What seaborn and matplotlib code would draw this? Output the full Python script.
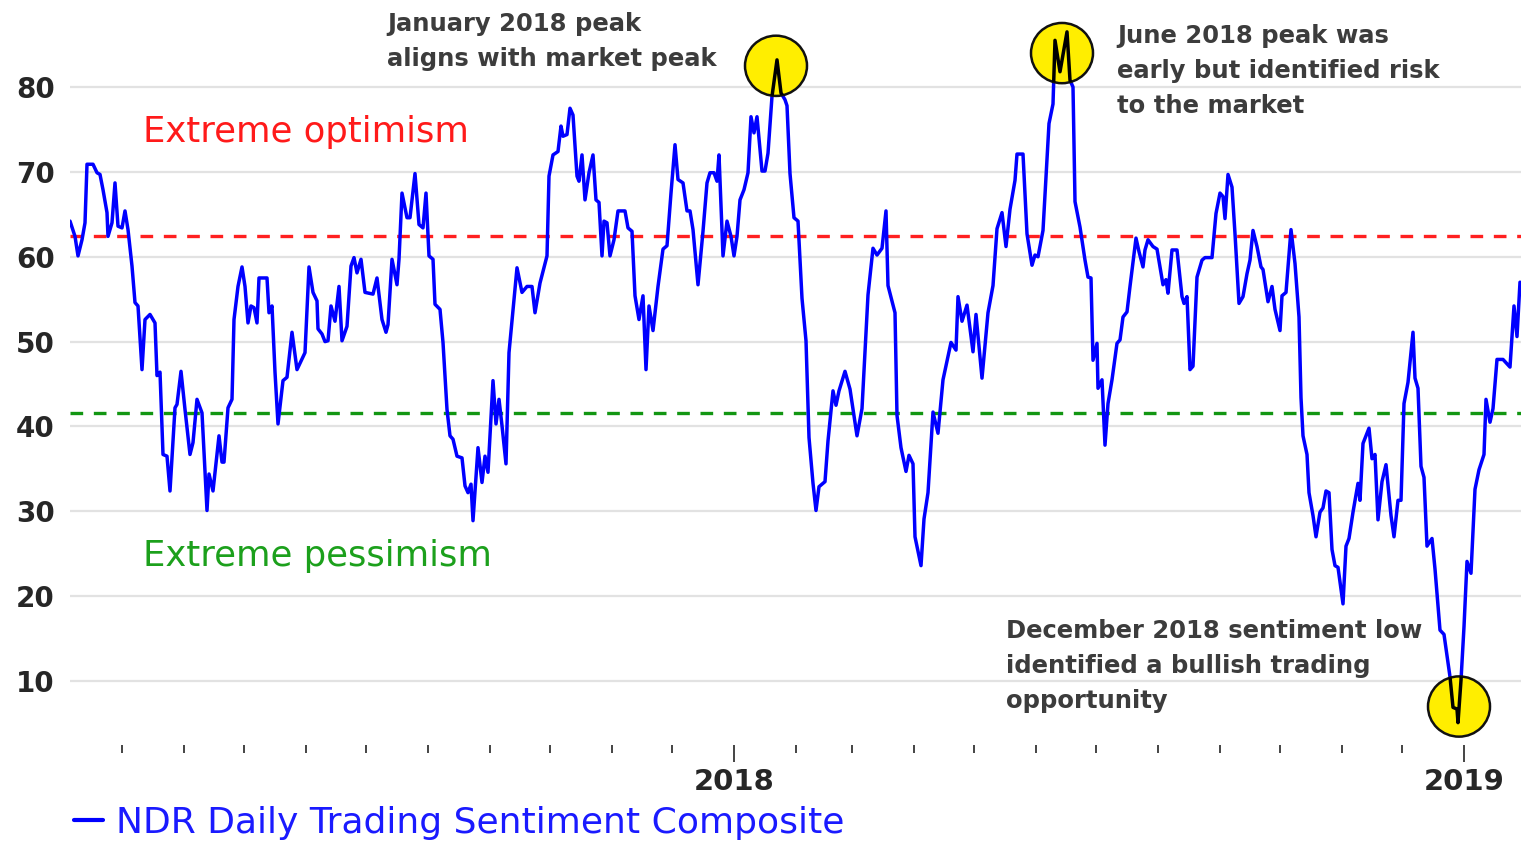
import numpy as np
import pandas as pd
import matplotlib
matplotlib.use("Agg")
import matplotlib.pyplot as plt
import matplotlib.dates as mdates
from matplotlib.patches import Ellipse
import seaborn as sns

# NDR Daily Trading Sentiment Composite
# day offsets are days from 2018-01-01
day_offsets = [
    -332, -329.5, -328, -326, -324.5, -323.5, -320.5, -318.5, -317, -315.5,
    -313.5, -313, -311, -309.5, -308, -306, -304.5, -303, -301, -299.5,
    -298, -296, -294.5, -292, -289.5, -288.5, -287, -285.5, -283.5, -282,
    -279.5, -278.5, -276.5, -274.5, -272, -270.5, -268.5, -266, -263.5, -262.5,
    -260.5, -257.5, -256, -255, -253, -251, -250, -248, -246, -244.5,
    -243, -241.5, -240, -238.5, -237.5, -233.5, -232.5, -231, -229.5, -228,
    -225.5, -223.5, -221, -218.5, -214.5, -212.5, -210.5, -208.5, -208, -206,
    -204.5, -203, -201.5, -199.5, -197.5, -196, -193.5, -191.5, -190, -188.5,
    -186.5, -184.5, -180.5, -178.5, -176, -174, -173, -171, -168.5, -167.5,
    -166, -163.5, -162, -159.5, -157.5, -155.5, -154, -152.5, -150.5, -149.5,
    -147, -145.5, -143.5, -142, -140.5, -138.5, -136, -134.5, -133, -131.5,
    -130.5, -128, -126, -124.5, -123, -120.5, -119, -117.5, -116, -114,
    -112.5, -108.5, -106, -103.5, -101, -99.5, -97, -93.5, -92.5, -90.5,
    -88, -86.5, -85.5, -83.5, -82, -80.5, -78.5, -77.5, -76, -74.5,
    -72.5, -70.5, -69, -67.5, -66, -65, -63.5, -62, -60, -58,
    -54.5, -53, -51, -49.5, -47.5, -45.5, -44, -42.5, -40.5, -38,
    -35.5, -33.5, -31.5, -29.5, -28, -25.5, -23.5, -22, -20.5, -18,
    -15.5, -13.5, -12, -10, -8.5, -7.5, -5.5, -3.5, -1.5, 0,
    1.5, 3, 5, 7, 8.5, 10, 11.5, 14, 15.5, 17,
    19, 21.5, 23.5, 25.5, 26.5, 28, 30, 32, 34, 36,
    37.5, 39.5, 41, 42.5, 45.5, 47, 49.5, 51, 52.5, 55.5,
    58, 61.5, 64, 67, 69.5, 71.5, 74, 76, 77, 80.5,
    81.5, 83.5, 86, 87.5, 89.5, 90.5, 93.5, 95, 97, 99.5,
    102, 104.5, 108.5, 111, 112, 114, 116.5, 119.5, 121, 124,
    127, 129.5, 131.5, 134, 136, 138, 140.5, 141.5, 144.5, 146.5,
    149, 150.5, 152, 154.5, 156.5, 157.5, 159.5, 160.5, 163, 166.5,
    168, 169.5, 170.5, 173, 175.5, 177, 178.5, 179.5, 181.5, 182,
    184, 185.5, 187, 189, 191.5, 193, 194.5, 196.5, 198, 201,
    202.5, 204.5, 205.5, 207, 209.5, 211.5, 214.5, 216, 217, 219,
    221.5, 224, 225, 226.5, 228, 229.5, 231.5, 234, 235.5, 239,
    241, 243, 244.5, 245.5, 247, 249, 250.5, 252.5, 254.5, 256.5,
    258, 259.5, 261.5, 263.5, 264.5, 267, 269, 270.5, 273, 274,
    276, 278.5, 280.5, 282.5, 283.5, 284.5, 286.5, 287.5, 289.5, 291,
    293, 294.5, 296, 297.5, 299, 300.5, 302, 304.5, 306, 307.5,
    309.5, 312, 313, 314.5, 317.5, 319, 320.5, 322, 324, 326,
    328.5, 330, 332, 333.5, 335, 337, 339.5, 340.5, 342, 343.5,
    345, 346.5, 349, 350.5, 353, 355, 358, 359.5, 361.5, 362,
    363.5, 365, 366.5, 368.5, 370.5, 372.5, 375, 376, 378, 379.5,
    381.5, 384.5, 388, 390, 391.5, 393,
]
sentiment = [
    64.2, 62.4, 60.1, 62.0, 64.0, 70.9, 70.9, 69.9, 69.7, 67.9,
    65.2, 62.4, 64.0, 68.7, 63.6, 63.4, 65.4, 63.2, 58.9, 54.6,
    54.2, 46.7, 52.6, 53.2, 52.2, 46.0, 46.4, 36.7, 36.5, 32.4,
    42.2, 42.6, 46.5, 42.0, 36.7, 38.1, 43.2, 41.6, 30.1, 34.4,
    32.4, 38.9, 35.8, 35.8, 42.2, 43.2, 52.6, 56.5, 58.8, 56.5,
    52.2, 54.2, 54.0, 52.2, 57.5, 57.5, 53.4, 54.2, 46.4, 40.3,
    45.4, 45.8, 51.1, 46.7, 48.7, 58.8, 55.8, 54.8, 51.5, 50.9,
    50.0, 50.1, 54.2, 52.4, 56.5, 50.1, 51.8, 58.9, 59.9, 58.1,
    59.7, 55.8, 55.6, 57.5, 52.6, 51.1, 52.0, 59.7, 56.7, 59.7,
    67.5, 64.6, 64.6, 69.8, 63.8, 63.4, 67.5, 60.1, 59.7, 54.4,
    53.8, 49.9, 42.0, 38.9, 38.5, 36.5, 36.3, 33.0, 32.2, 33.2,
    28.9, 37.5, 33.4, 36.5, 34.6, 45.4, 40.3, 43.2, 40.1, 35.6,
    48.7, 58.7, 55.8, 56.5, 56.5, 53.4, 56.9, 60.1, 69.5, 72.0,
    72.4, 75.4, 74.2, 74.4, 77.5, 76.7, 69.5, 68.9, 72.0, 66.7,
    69.9, 72.0, 66.7, 66.4, 60.1, 64.2, 64.0, 60.1, 62.0, 65.4,
    65.4, 63.4, 63.0, 55.4, 52.6, 55.4, 46.7, 54.2, 51.3, 56.5,
    60.9, 61.3, 67.5, 73.2, 69.1, 68.7, 65.4, 65.4, 63.2, 56.7,
    63.0, 68.7, 69.9, 69.9, 68.9, 72.0, 60.1, 64.2, 62.4, 60.1,
    62.4, 66.7, 67.9, 69.9, 76.5, 74.6, 76.5, 70.1, 70.1, 72.2,
    78.9, 83.2, 79.3, 78.5, 77.8, 69.8, 64.6, 64.2, 55.1, 50.1,
    38.7, 33.3, 30.1, 32.9, 33.5, 38.3, 44.2, 42.5, 44.2, 46.5,
    44.4, 38.9, 42.1, 55.5, 61.0, 60.2, 61.0, 65.4, 56.6, 53.4,
    41.3, 37.5, 34.7, 36.6, 35.6, 27.0, 23.6, 29.1, 32.2, 41.7,
    39.2, 45.5, 49.9, 49.0, 55.3, 52.4, 54.3, 48.8, 53.2, 45.7,
    53.4, 56.6, 63.3, 65.2, 61.2, 65.6, 69.0, 72.1, 72.1, 62.7,
    59.0, 60.2, 60.0, 63.1, 71.4, 75.7, 78.0, 85.5, 81.8, 86.5,
    80.8, 80.0, 66.5, 63.5, 59.6, 57.6, 57.5, 47.8, 49.8, 44.5,
    45.5, 37.8, 42.7, 45.5, 49.8, 50.2, 52.9, 53.5, 56.5, 62.2,
    60.6, 58.8, 60.8, 62.0, 61.2, 60.9, 56.7, 57.3, 55.7, 60.8,
    60.8, 55.3, 54.5, 55.3, 46.7, 47.1, 57.6, 59.6, 59.9, 59.9,
    65.1, 67.5, 67.1, 64.5, 69.7, 68.2, 62.7, 54.5, 55.3, 58.0,
    59.6, 63.1, 61.2, 58.8, 58.5, 54.7, 56.5, 53.8, 51.3, 55.4,
    55.8, 63.2, 59.2, 52.9, 43.4, 38.9, 36.7, 32.2, 29.5, 27.0,
    29.9, 30.4, 32.4, 32.2, 25.5, 23.6, 23.4, 19.1, 25.9, 26.8,
    29.9, 33.3, 31.3, 38.0, 39.8, 36.2, 36.7, 29.0, 33.5, 35.5,
    29.5, 27.0, 31.3, 31.3, 42.7, 45.2, 51.1, 45.7, 44.5, 35.3,
    34.0, 25.9, 26.8, 23.2, 16.0, 15.5, 10.5, 6.9, 6.7, 5.1,
    10.1, 16.4, 24.1, 22.7, 32.6, 34.9, 36.7, 43.2, 40.5, 42.1,
    47.9, 47.9, 47.0, 54.2, 50.6, 57.0,
]

optimism_level = 62.5
pessimism_level = 41.6

# highlighted turning points: (day offset, value)
highlight_days = [21, 164, 362.5]
highlight_vals = [82.5, 84.0, 7.0]

ytick_values = [10, 20, 30, 40, 50, 60, 70, 80]

base = pd.Timestamp("2018-01-01")
dates = base + pd.to_timedelta(day_offsets, unit="D")
df = pd.DataFrame({"date": dates, "sentiment": sentiment})

sns.set_style("whitegrid")
plt.rcParams["font.family"] = ["DejaVu Sans"]

W, H = 1521, 843
fig = plt.figure(figsize=(W / 100, H / 100), dpi=100)
ax = fig.add_axes([70 / W, 0.1166, 1 - 70 / W, 0.8607])

sns.lineplot(data=df, x="date", y="sentiment", ax=ax, color="#0000ff",
             linewidth=2.5, estimator=None, sort=False, zorder=3,
             label="NDR Daily Trading Sentiment Composite")

ax.axhline(optimism_level, color="#ff2020", linewidth=2.4, dashes=(3.8, 3.2), zorder=2)
ax.axhline(pessimism_level, color="#129612", linewidth=2.4, dashes=(3.8, 3.2), zorder=2)

# yellow circles, with the line drawn black inside them
for d, v in zip(highlight_days, highlight_vals):
    center = (mdates.date2num(base + pd.Timedelta(days=d)), v)
    circ = Ellipse(center, width=31, height=7.1, facecolor="#ffee00",
                   edgecolor="#111111", linewidth=1.8, zorder=5, clip_on=False)
    ax.add_patch(circ)
    inner, = ax.plot(df["date"], df["sentiment"], color="black", linewidth=2.5, zorder=6)
    inner.set_clip_path(circ)

ax.set_ylim(2.5, 88)
ax.set_xlim(base + pd.Timedelta(days=-332), base + pd.Timedelta(days=393.5))
ax.set_yticks(ytick_values)
ax.set_yticklabels([str(t) for t in ytick_values], fontsize=20, fontweight="bold")
ax.tick_params(axis="y", length=0, pad=11)

ax.xaxis.set_major_locator(mdates.YearLocator())
ax.xaxis.set_major_formatter(mdates.DateFormatter("%Y"))
ax.xaxis.set_minor_locator(mdates.MonthLocator(bymonth=range(2, 13)))
ax.tick_params(axis="x", which="major", direction="out", length=12, width=1.4,
               color="#444444", pad=5, labelsize=21, bottom=True)
ax.tick_params(axis="x", which="minor", direction="out", length=5.5, width=1.4,
               color="#444444", bottom=True)
for lbl in ax.get_xticklabels():
    lbl.set_fontweight("bold")

ax.grid(axis="x", visible=False)
ax.grid(axis="y", color="#e2e2e2", linewidth=1.6)
ax.set_xlabel("")
ax.set_ylabel("")
for s in ax.spines.values():
    s.set_visible(False)

fig.text(143 / W, 1 - 132 / H, "Extreme optimism", color="#ff1a1a",
         fontsize=25.5, va="center", ha="left")
fig.text(143 / W, 1 - 556 / H, "Extreme pessimism", color="#1ca01c",
         fontsize=25.5, va="center", ha="left")

note_kw = dict(color="#3c3c3c", fontsize=17.5, fontweight="bold",
               ha="left", va="top", linespacing=1.58)
fig.text(387 / W, 1 - 12 / H, "January 2018 peak\naligns with market peak", **note_kw)
fig.text(1117 / W, 1 - 24 / H, "June 2018 peak was\nearly but identified risk\nto the market", **note_kw)
fig.text(1006 / W, 1 - 619 / H, "December 2018 sentiment low\nidentified a bullish trading\nopportunity", **note_kw)

leg = ax.legend(loc="center left", bbox_to_anchor=(74 / W, 1 - 823 / H), bbox_transform=fig.transFigure,
                frameon=False, fontsize=26, handlelength=0.8, handletextpad=0.35,
                borderpad=0, borderaxespad=0)
for t in leg.get_texts():
    t.set_color("#1a1aff")
for h in leg.get_lines():
    h.set_linewidth(3)

fig.savefig("out.png", dpi=100)
